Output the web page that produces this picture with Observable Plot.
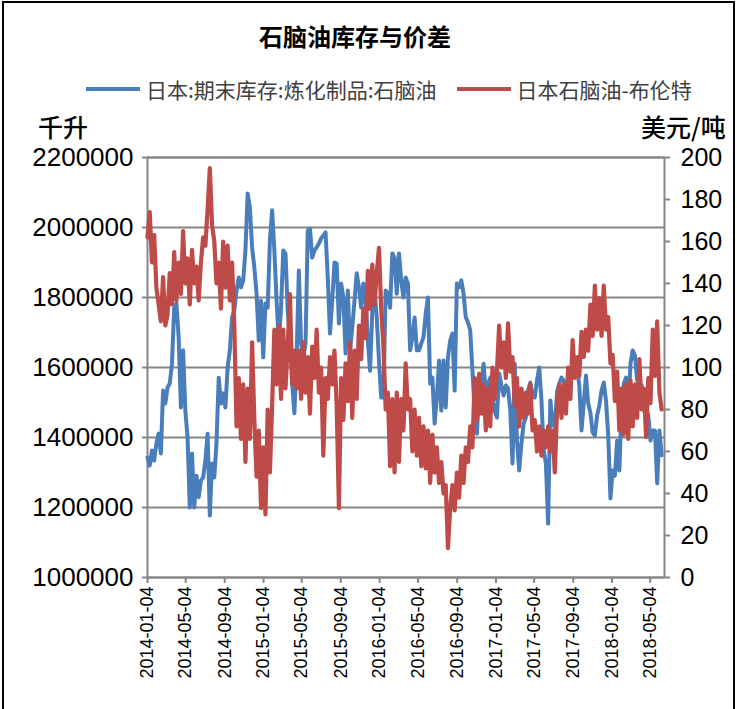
<!DOCTYPE html>
<html><head><meta charset="utf-8">
<script src="https://cdn.jsdelivr.net/npm/d3@7"></script>
<script src="https://cdn.jsdelivr.net/npm/@observablehq/plot@0.6"></script>
<style>
html,body{margin:0;padding:0;background:#fff;}
#wrap{position:relative;width:737px;height:709px;overflow:hidden;font-family:"Noto Sans CJK SC","Noto Sans",sans-serif;color:#000;background:#fff;}
#frame{position:absolute;left:2px;top:1px;width:729px;height:740px;border:2px solid #000;}
#title{position:absolute;left:0;top:20px;width:710px;text-align:center;font-size:24px;font-weight:bold;line-height:32px;}
#legend{position:absolute;top:74px;left:86px;display:flex;align-items:center;font-size:21px;color:#404040;white-space:nowrap;line-height:30px;}
.sw{display:inline-block;width:54px;height:4px;margin-right:6px;}
.gap{display:inline-block;width:20px;}
#ylab{position:absolute;left:38px;top:109px;font-size:25px;line-height:34px;font-weight:500;}
#y2lab{position:absolute;left:641px;top:109px;font-size:25px;line-height:34px;font-weight:500;}
#chart{position:absolute;left:0;top:140px;}
</style></head>
<body>
<div id="wrap">
  <div id="frame"></div>
  <div id="title">石脑油库存与价差</div>
  <div id="legend"></div>
  <div id="ylab">千升</div>
  <div id="y2lab">美元/吨</div>
  <div id="chart"></div>
</div>
<script>
// ---- data (weekly readings starting 2014-01-04) ----
const seriesNames = ["日本:期末库存:炼化制品:石脑油", "日本石脑油-布伦特"];
const seriesColors = ["#4A7EBB", "#BE4B48"];
const firstWeek = "2014-01-04";

// 日本:期末库存:炼化制品:石脑油 (千升), weekly
const inventory = [
1343000,1320000,1363000,1334000,1383000,1411000,1354000,1534000,1497000,1543000,
1554000,1611000,1771000,1783000,1686000,1486000,1649000,1477000,1400000,1200000,
1354000,1200000,1291000,1229000,1277000,1286000,1334000,1411000,1177000,1326000,
1286000,1383000,1571000,1497000,1526000,1486000,1600000,1649000,1743000,1763000,
1820000,1857000,1829000,1849000,1934000,2097000,2057000,1943000,1886000,1811000,
1677000,1791000,1629000,1783000,1771000,1963000,2049000,1934000,1791000,1669000,
1771000,1934000,1926000,1763000,1686000,1554000,1469000,1629000,1877000,1669000,
1629000,1669000,1991000,1997000,1914000,1934000,1943000,1954000,
1969000,1977000,1986000,1857000,1697000,1791000,1900000,1897000,1726000,1840000,
1800000,1640000,1820000,1649000,1714000,1791000,1869000,1829000,1771000,1840000,
1791000,1677000,1591000,1763000,1820000,1743000,1620000,1514000,1514000,1820000,
1811000,1771000,1926000,1914000,1811000,1926000,1849000,1800000,1857000,1840000,
1649000,
1686000,1743000,1649000,1649000,1669000,1686000,1754000,1800000,1554000,1571000,
1440000,1514000,1620000,1477000,1620000,1486000,1629000,1677000,1697000,1534000,
1840000,1829000,1849000,1811000,1743000,1729000,1706000,1591000,1477000,1411000,
1534000,1554000,1611000,1526000,1554000,1571000,1514000,1477000,1457000,
1583000,1549000,1520000,1549000,1540000,1477000,1326000,1611000,1391000,1306000,
1383000,1440000,1457000,1534000,1557000,1520000,1514000,1563000,1600000,1506000,
1363000,1326000,1154000,1506000,1440000,1429000,1529000,1554000,1571000,1563000,
1534000,1554000,1571000,1586000,1611000,1597000,1549000,1420000,1497000,
1577000,1497000,1471000,1414000,1406000,1463000,1491000,1534000,1557000,1506000,
1406000,1226000,1306000,1291000,1391000,1306000,1486000,1554000,1571000,1477000,
1611000,1649000,1634000,1563000,1554000,1549000,1477000,1491000,1463000,1391000,
1420000,1420000,1269000,1420000,1349000
];

// 日本石脑油-布伦特 (美元/吨), weekly highs/lows as read
const spread = [
162,174,150,163,138,130,122,143,120,125,145,130,155,132,150,135,165,140,152,130,
156,140,148,132,150,162,158,175,195,168,160,140,150,128,160,138,158,132,150,
120,72,95,66,92,55,90,66,112,75,48,70,33,62,30,80,50,82,118,92,
120,85,118,90,110,135,92,108,90,108,85,112,88,105,78,110,95,118,88,
100,58,95,85,105,92,108,82,33,95,75,102,84,112,76,108,85,120,104,128,
114,146,128,149,130,145,157,128,110,80,88,53,85,50,88,55,85,70,102,80,
85,60,80,58,76,53,72,52,70,45,68,50,62,45,55,40,44,14,33,44,
32,50,38,58,45,62,55,72,62,95,75,97,78,92,70,90,72,100,85,
98,120,100,112,95,121,98,105,82,95,72,90,76,88,78,92,70,75,60,72,
58,70,62,72,60,70,50,80,92,76,92,78,100,85,113,95,105,96,117,
105,118,108,130,115,139,118,133,115,139,118,124,102,106,84,98,70,90,68,92,
66,94,72,92,76,104,80,90,67,95,83,118,96,122,88,80
];

const xTickLabels = ["2014-01-04","2014-05-04","2014-09-04","2015-01-04","2015-05-04","2015-09-04",
  "2016-01-04","2016-05-04","2016-09-04","2017-01-04","2017-05-04","2017-09-04","2018-01-04","2018-05-04"];
const xDomain = ["2014-01-04", "2018-06-18"];
const leftTicks = [1000000,1200000,1400000,1600000,1800000,2000000,2200000];
const rightTicks = [0,20,40,60,80,100,120,140,160,180,200];

// ---- build ----
const parse = d3.utcParse("%Y-%m-%d");
const start = parse(firstWeek);
const yMin = leftTicks[0], yMax = leftTicks[leftTicks.length - 1];
const rMax = rightTicks[rightTicks.length - 1];
// map secondary (right) values onto the primary scale's domain
const toLeft = v => yMin + v * (yMax - yMin) / rMax;
const fromLeft = d => Math.round((d - yMin) * rMax / (yMax - yMin));

const invData = inventory.map((v, i) => ({date: d3.utcDay.offset(start, 7 * i), value: v}));
const sprData = spread.map((v, i) => ({date: d3.utcDay.offset(start, 7 * i), value: toLeft(v)}));

const gray = "#868686";
const chart = Plot.plot({
  width: 737,
  height: 560,
  marginLeft: 147,
  marginRight: 73,
  marginTop: 17,
  marginBottom: 123,
  style: {fontFamily: "'Liberation Sans', Arial, sans-serif", fontSize: "25px", background: "transparent", color: "#000"},
  x: {type: "utc", domain: xDomain.map(parse)},
  y: {domain: [yMin, yMax]},
  marks: [
    Plot.gridY(leftTicks, {stroke: gray, strokeOpacity: 1, strokeWidth: 2}),
    Plot.frame({stroke: gray, strokeWidth: 2}),
    Plot.axisY(leftTicks, {anchor: "left", tickFormat: d3.format("d"), tickSize: 5, tickPadding: 9,
      stroke: gray, strokeWidth: 2, fill: "#000", fontSize: 26, label: null}),
    Plot.axisY(rightTicks.map(toLeft), {anchor: "right", tickFormat: d => String(fromLeft(d)), tickSize: 5, tickPadding: 11,
      stroke: gray, strokeWidth: 2, fill: "#000", fontSize: 25, label: null}),
    Plot.axisX(xTickLabels.map(parse), {anchor: "bottom", tickFormat: d3.utcFormat("%Y-%m-%d"), tickRotate: -90,
      tickSize: 6, tickPadding: 3, stroke: gray, strokeWidth: 2, fill: "#000", fontSize: 18, label: null}),
    Plot.lineY(invData, {x: "date", y: "value", stroke: seriesColors[0], strokeWidth: 4, strokeLinejoin: "round", strokeLinecap: "round"}),
    Plot.lineY(sprData, {x: "date", y: "value", stroke: seriesColors[1], strokeWidth: 4.2, strokeLinejoin: "round", strokeLinecap: "round"})
  ]
});
document.getElementById("chart").appendChild(chart);

// legend
const legend = document.getElementById("legend");
seriesNames.forEach((name, i) => {
  if (i > 0) { const g = document.createElement("span"); g.className = "gap"; legend.appendChild(g); }
  const sw = document.createElement("span");
  sw.className = "sw"; sw.style.background = seriesColors[i];
  legend.appendChild(sw);
  const t = document.createElement("span"); t.textContent = name;
  legend.appendChild(t);
});
</script>
</body></html>
